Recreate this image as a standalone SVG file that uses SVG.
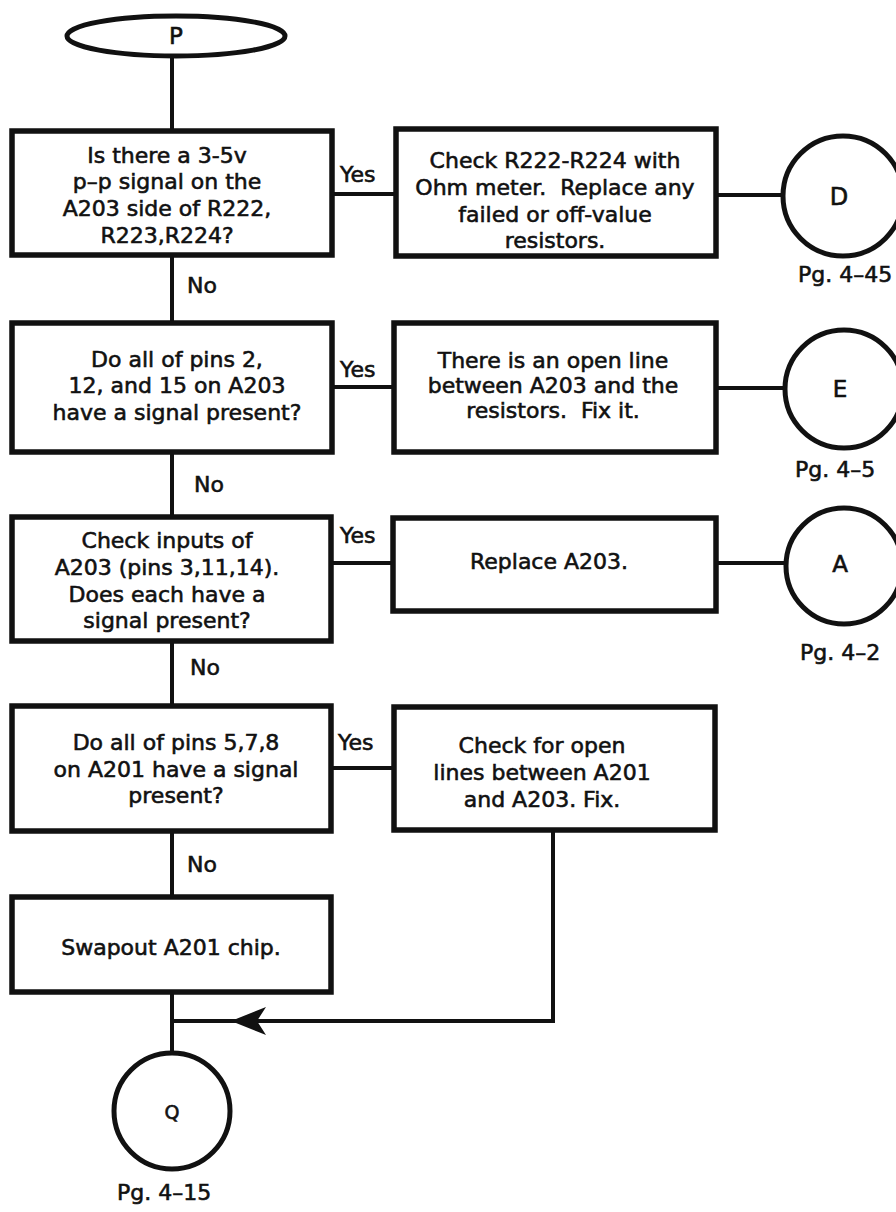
<svg xmlns="http://www.w3.org/2000/svg" width="896" height="1212" viewBox="0 0 896 1212">
<style>
.box{fill:#fff;stroke:#111;stroke-width:5.5}
.term{fill:#fff;stroke:#111;stroke-width:5}
.ln{fill:none;stroke:#111;stroke-width:4}
text{font-family:"DejaVu Sans","Liberation Sans",sans-serif;font-size:22px;fill:#111;stroke:#111;stroke-width:0.6;white-space:pre}
.c{text-anchor:middle}
</style>
<defs>
<marker id="barb" viewBox="0 0 36 30" refX="35" refY="15" markerWidth="36" markerHeight="30" markerUnits="userSpaceOnUse" orient="auto">
<path d="M0,1 L35,15 L0,29 L9,15 Z" fill="#111"/>
</marker>
</defs>
<rect width="896" height="1212" fill="#fff"/>
<g id="connectors">
<line class="ln" x1="172" y1="56" x2="172" y2="131"/>
<line class="ln" x1="172" y1="255" x2="172" y2="323"/>
<line class="ln" x1="172" y1="452" x2="172" y2="517"/>
<line class="ln" x1="172" y1="641" x2="172" y2="706"/>
<line class="ln" x1="172" y1="831" x2="172" y2="897"/>
<line class="ln" x1="172" y1="992" x2="172" y2="1053"/>
<line class="ln" x1="332" y1="194" x2="396" y2="194"/>
<line class="ln" x1="332" y1="387" x2="394" y2="387"/>
<line class="ln" x1="331" y1="563" x2="393" y2="563"/>
<line class="ln" x1="331" y1="768" x2="394" y2="768"/>
<line class="ln" x1="716" y1="195" x2="783" y2="195"/>
<line class="ln" x1="716" y1="388" x2="785" y2="388"/>
<line class="ln" x1="716" y1="563" x2="786" y2="563"/>
<path class="ln" d="M553,830 V1021 H231" marker-end="url(#barb)"/>
<line class="ln" x1="240" y1="1021" x2="172" y2="1021"/>
<text x="340" y="182">Yes</text>
<text x="340" y="377">Yes</text>
<text x="340" y="543">Yes</text>
<text x="338" y="750">Yes</text>
<text x="187" y="293">No</text>
<text x="194" y="492">No</text>
<text x="190" y="675">No</text>
<text x="187" y="872">No</text>
</g>
<g id="start-P">
<ellipse class="term" cx="176" cy="36" rx="109" ry="20"/>
<text class="c" x="176" y="44" style="font-size:23px">P</text>
</g>
<g id="q1">
<rect class="box" x="12" y="131" width="320" height="124"/>
<text class="c" x="167" y="163">Is there a 3-5v</text>
<text class="c" x="167" y="189">p–p signal on the</text>
<text class="c" x="167" y="216">A203 side of R222,</text>
<text class="c" x="167" y="243">R223,R224?</text>
</g>
<g id="a1">
<rect class="box" x="396" y="129" width="320" height="127"/>
<text class="c" x="555" y="168">Check R222-R224 with</text>
<text class="c" x="555" y="195">Ohm meter.  Replace any</text>
<text class="c" x="555" y="222">failed or off-value</text>
<text class="c" x="555" y="248">resistors.</text>
</g>
<g id="conn-D">
<circle class="term" cx="843" cy="196" r="60"/>
<text class="c" x="839" y="205" style="font-size:24px">D</text>
<text x="798" y="282">Pg. 4–45</text>
</g>
<g id="q2">
<rect class="box" x="12" y="323" width="320" height="129"/>
<text class="c" x="177" y="367">Do all of pins 2,</text>
<text class="c" x="177" y="393">12, and 15 on A203</text>
<text class="c" x="177" y="420">have a signal present?</text>
</g>
<g id="a2">
<rect class="box" x="394" y="323" width="322" height="129"/>
<text class="c" x="553" y="368">There is an open line</text>
<text class="c" x="553" y="393">between A203 and the</text>
<text class="c" x="553" y="418">resistors.  Fix it.</text>
</g>
<g id="conn-E">
<circle class="term" cx="844" cy="389" r="59"/>
<text class="c" x="840" y="397" style="font-size:23px">E</text>
<text x="795" y="477">Pg. 4–5</text>
</g>
<g id="q3">
<rect class="box" x="12" y="517" width="319" height="124"/>
<text class="c" x="167" y="548">Check inputs of</text>
<text class="c" x="167" y="575">A203 (pins 3,11,14).</text>
<text class="c" x="167" y="602">Does each have a</text>
<text class="c" x="167" y="628">signal present?</text>
</g>
<g id="a3">
<rect class="box" x="393" y="518" width="323" height="93"/>
<text class="c" x="549" y="569">Replace A203.</text>
</g>
<g id="conn-A">
<circle class="term" cx="844" cy="566" r="58"/>
<text class="c" x="840" y="572" style="font-size:23px">A</text>
<text x="800" y="660">Pg. 4–2</text>
</g>
<g id="q4">
<rect class="box" x="12" y="706" width="319" height="125"/>
<text class="c" x="176" y="750">Do all of pins 5,7,8</text>
<text class="c" x="176" y="777">on A201 have a signal</text>
<text class="c" x="176" y="803">present?</text>
</g>
<g id="a4">
<rect class="box" x="394" y="707" width="321" height="123"/>
<text class="c" x="542" y="753">Check for open</text>
<text class="c" x="542" y="780">lines between A201</text>
<text class="c" x="542" y="807">and A203. Fix.</text>
</g>
<g id="a5">
<rect class="box" x="12" y="897" width="319" height="95"/>
<text class="c" x="171" y="955">Swapout A201 chip.</text>
</g>
<g id="conn-Q">
<circle class="term" cx="172" cy="1111" r="58"/>
<text class="c" x="172" y="1119" style="font-size:19px">Q</text>
<text x="117" y="1200">Pg. 4–15</text>
</g>
</svg>
